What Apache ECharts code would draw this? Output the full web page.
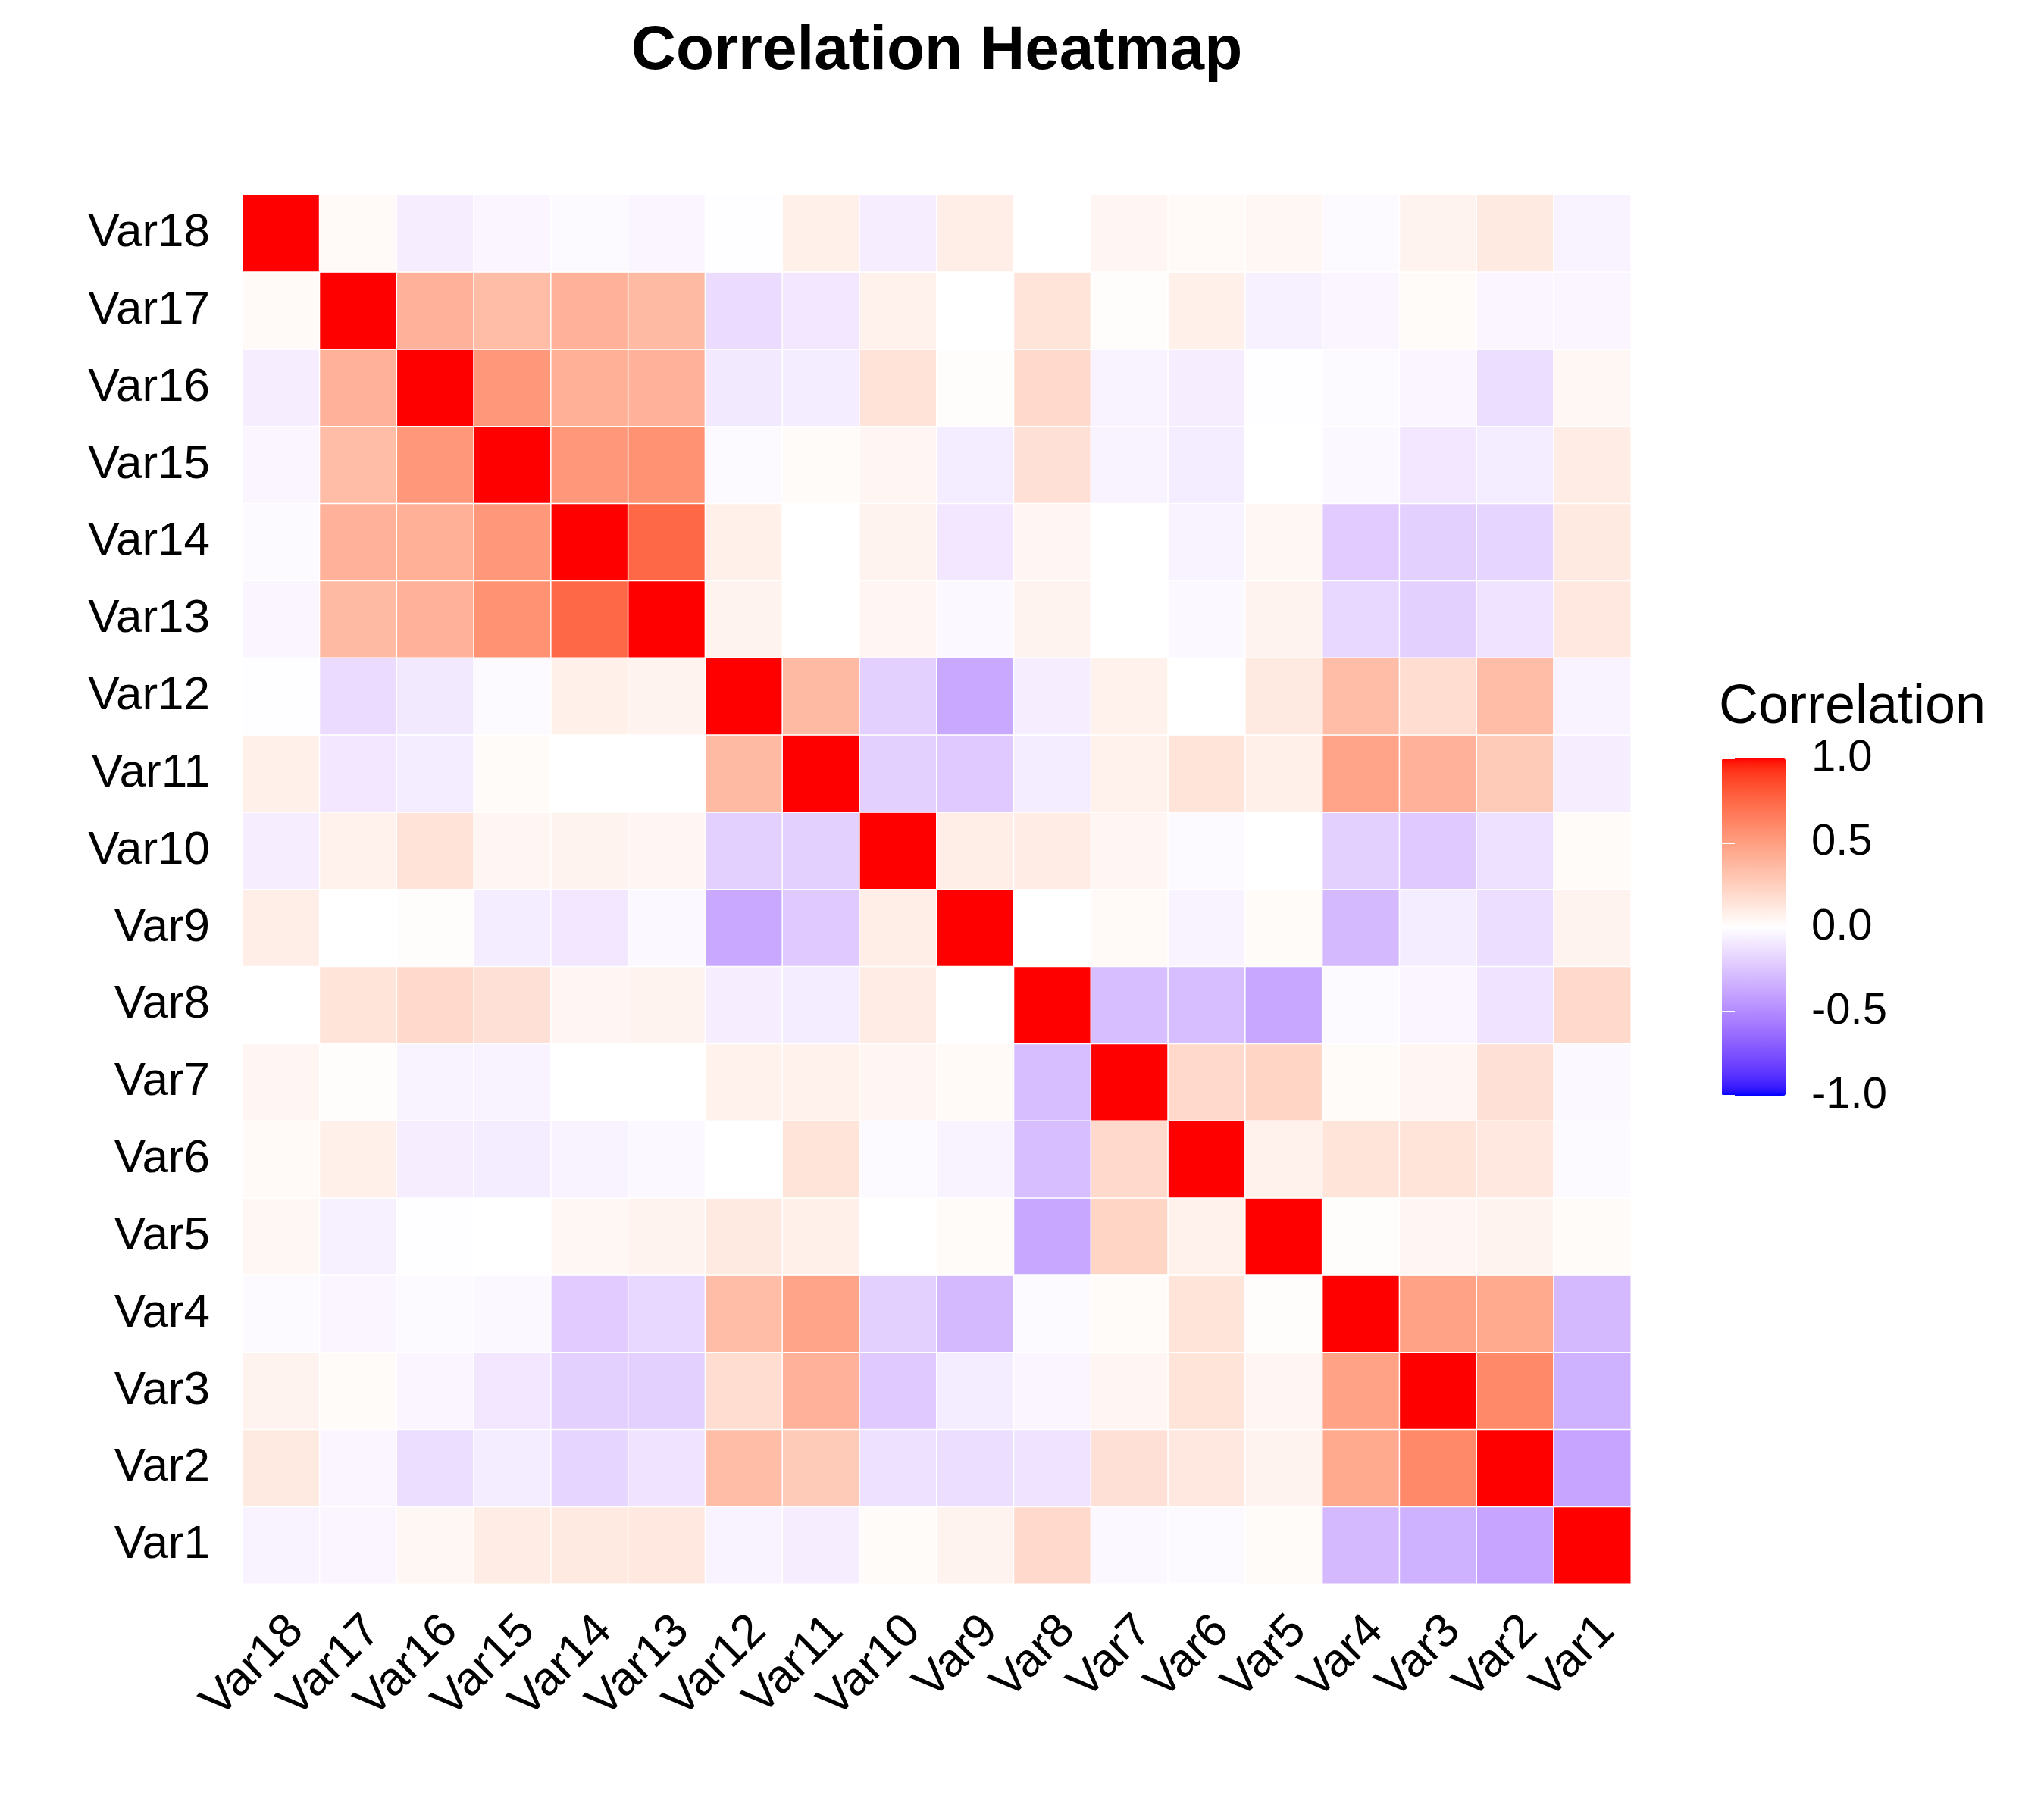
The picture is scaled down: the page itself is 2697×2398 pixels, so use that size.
<!DOCTYPE html>
<html>
<head>
<meta charset="utf-8">
<script src="https://cdn.jsdelivr.net/npm/echarts@6/dist/echarts.min.js"></script>
<style>
html,body{margin:0;padding:0;background:#ffffff;}
#chart{width:2697px;height:2398px;}
</style>
</head>
<body>
<div id="chart"></div>
<script>
// ---- data: lower-triangle correlations, each row VarK lists r(VarK, Var1..Var(K-1)) ----
const variables = ['Var1','Var2','Var3','Var4','Var5','Var6','Var7','Var8','Var9','Var10','Var11','Var12','Var13','Var14','Var15','Var16','Var17','Var18'];
const var2  = [-0.39];
const var3  = [-0.33, 0.60];
const var4  = [-0.30, 0.44, 0.48];
const var5  = [0.02, 0.06, 0.05, 0.01];
const var6  = [-0.02, 0.12, 0.14, 0.14, 0.07];
const var7  = [-0.03, 0.16, 0.05, 0.02, 0.22, 0.20];
const var8  = [0.20, -0.12, -0.04, -0.02, -0.38, -0.28, -0.28];
const var9  = [0.06, -0.14, -0.08, -0.30, 0.02, -0.05, 0.03, 0.00];
const var10 = [0.02, -0.13, -0.23, -0.20, 0.00, -0.02, 0.05, 0.10, 0.09];
const var11 = [-0.07, 0.27, 0.40, 0.47, 0.08, 0.14, 0.07, -0.08, -0.23, -0.20];
const var12 = [-0.05, 0.35, 0.18, 0.35, 0.11, 0.00, 0.07, -0.07, -0.37, -0.20, 0.36];
const var13 = [0.12, -0.12, -0.20, -0.17, 0.06, -0.03, 0.00, 0.06, -0.03, 0.05, 0.00, 0.06];
const var14 = [0.11, -0.18, -0.20, -0.22, 0.04, -0.05, 0.00, 0.05, -0.10, 0.06, 0.00, 0.08, 0.75];
const var15 = [0.10, -0.08, -0.10, -0.03, 0.00, -0.08, -0.05, 0.16, -0.08, 0.05, 0.02, -0.02, 0.56, 0.53];
const var16 = [0.04, -0.14, -0.04, -0.02, -0.01, -0.07, -0.05, 0.20, 0.01, 0.15, -0.08, -0.09, 0.40, 0.41, 0.53];
const var17 = [-0.04, -0.04, 0.02, -0.04, -0.06, 0.08, 0.01, 0.14, 0.00, 0.07, -0.10, -0.15, 0.36, 0.40, 0.35, 0.40];
const var18 = [-0.05, 0.11, 0.06, -0.02, 0.04, 0.03, 0.05, 0.00, 0.09, -0.07, 0.08, -0.01, -0.04, -0.02, -0.04, -0.07, 0.03];
const lowerRows = [[], var2, var3, var4, var5, var6, var7, var8, var9, var10, var11, var12, var13, var14, var15, var16, var17, var18];
const xCategories = variables.slice().reverse();   // Var18 ... Var1 (left to right)
const yCategories = variables.slice();             // Var1 (bottom) ... Var18 (top)
const legendTicks = [-1, -0.5, 0, 0.5, 1];
const titleText = 'Correlation Heatmap';
const legendTitle = 'Correlation';

// ---- symmetric matrix ----
function corr(a, b) {
  if (a === b) return 1;
  return a > b ? lowerRows[a][b] : lowerRows[b][a];
}
const heatData = [];
for (let xi = 0; xi < xCategories.length; xi++) {
  const a = variables.indexOf(xCategories[xi]);
  for (let yi = 0; yi < yCategories.length; yi++) {
    const b = variables.indexOf(yCategories[yi]);
    heatData.push([xi, yi, corr(a, b)]);
  }
}

// ---- colour scale: blue - white - red, interpolated in CIE Lab like ggplot's gradient2 ----
function srgbToLin(c){ c/=255; return c<=0.04045? c/12.92 : Math.pow((c+0.055)/1.055,2.4); }
function linToSrgb(c){ c = c<=0.0031308? 12.92*c : 1.055*Math.pow(c,1/2.4)-0.055; return Math.round(Math.max(0,Math.min(1,c))*255); }
const Xn=0.95047, Yn=1.0, Zn=1.08883;
function rgbToLab(r,g,b){
  const R=srgbToLin(r),G=srgbToLin(g),B=srgbToLin(b);
  const X=(0.4124*R+0.3576*G+0.1805*B)/Xn, Y=(0.2126*R+0.7152*G+0.0722*B)/Yn, Z=(0.0193*R+0.1192*G+0.9505*B)/Zn;
  const f=t=> t>0.008856? Math.cbrt(t) : 7.787*t+16/116;
  const fx=f(X),fy=f(Y),fz=f(Z);
  return [116*fy-16, 500*(fx-fy), 200*(fy-fz)];
}
function labToHex(L,a,b){
  const fy=(L+16)/116, fx=fy+a/500, fz=fy-b/200;
  const fi=t=> t>0.206893? t*t*t : (t-16/116)/7.787;
  const X=Xn*fi(fx), Y=Yn*fi(fy), Z=Zn*fi(fz);
  const R= 3.2406*X-1.5372*Y-0.4986*Z, G=-0.9689*X+1.8758*Y+0.0415*Z, B=0.0557*X-0.2040*Y+1.0570*Z;
  const h=v=>linToSrgb(v).toString(16).padStart(2,'0');
  return '#'+h(R)+h(G)+h(B);
}
const labLow=rgbToLab(0,0,255), labMid=rgbToLab(255,255,255), labHigh=rgbToLab(255,0,0);
const colorStops=[];
for(let i=0;i<=80;i++){
  const v=-1+i/40;
  const from = labMid, to = v<0? labLow: labHigh, t=Math.abs(v);
  colorStops.push(labToHex(from[0]+(to[0]-from[0])*t, from[1]+(to[1]-from[1])*t, from[2]+(to[2]-from[2])*t));
}

const FONT = '"Liberation Sans", Arial, Helvetica, sans-serif';
const chart = echarts.init(document.getElementById('chart'), null, {renderer:'canvas', width:2697, height:2398});
chart.setOption({
  backgroundColor:'#ffffff',
  animation:false,
  textStyle:{fontFamily:FONT},
  title:[
    {text:titleText, left:1236, top:27, textAlign:'center', padding:0,
     textStyle:{fontSize:82, fontWeight:'bold', color:'#000000', fontFamily:FONT}},
    {text:legendTitle, left:2268, top:898, padding:0,
     textStyle:{fontSize:72, fontWeight:'normal', color:'#000000', fontFamily:FONT}}
  ],
  grid:[
    {left:320, top:257, width:1832, height:1833, containLabel:false, outerBoundsMode:'none'},
    {left:2272, top:1001, width:84, height:445, containLabel:false, outerBoundsMode:'none'}
  ],
  xAxis:[
    {type:'category', data:xCategories, gridIndex:0,
     axisLine:{show:false}, axisTick:{show:false}, splitLine:{show:false},
     axisLabel:{rotate:45, interval:0, margin:33, fontSize:62, color:'#000000', fontFamily:FONT,
       align:'right', verticalAlign:'top', lineHeight:56}},
    {type:'value', gridIndex:1, show:false, min:0, max:1}
  ],
  yAxis:[
    {type:'category', data:yCategories, gridIndex:0,
     axisLine:{show:false}, axisTick:{show:false}, splitLine:{show:false},
     axisLabel:{interval:0, margin:43, fontSize:62, color:'#000000', fontFamily:FONT}},
    {type:'value', gridIndex:1, min:-1, max:1, interval:0.5, position:'right', z:10,
     axisLine:{show:false}, splitLine:{show:false},
     axisTick:{show:true, inside:true, length:17, lineStyle:{color:'#ffffff', width:2}},
     axisLabel:{margin:34, fontSize:58, color:'#000000', fontFamily:FONT,
       formatter:function(v){ return legendTicks.indexOf(v)>=0 ? v.toFixed(1) : ''; }}},
    {type:'value', gridIndex:1, min:-1, max:1, interval:0.5, position:'left', z:10,
     axisLine:{show:false}, splitLine:{show:false},
     axisTick:{show:true, inside:true, length:17, lineStyle:{color:'#ffffff', width:2}},
     axisLabel:{show:false}}
  ],
  visualMap:{
    type:'continuous', min:-1, max:1, seriesIndex:0, calculable:false, orient:'vertical',
    left:2272, top:1001, itemWidth:84, itemHeight:445, padding:0, text:null, showLabel:false,
    hoverLink:false, inRange:{color:colorStops}
  },
  series:[
    {type:'heatmap', xAxisIndex:0, yAxisIndex:0, data:heatData, progressive:0,
     itemStyle:{borderColor:'#ffffff', borderWidth:1.5},
     emphasis:{disabled:true}},
    {type:'scatter', xAxisIndex:1, yAxisIndex:1, data:[], silent:true},
    {type:'scatter', xAxisIndex:1, yAxisIndex:2, data:[], silent:true}
  ]
});
</script>
</body>
</html>
